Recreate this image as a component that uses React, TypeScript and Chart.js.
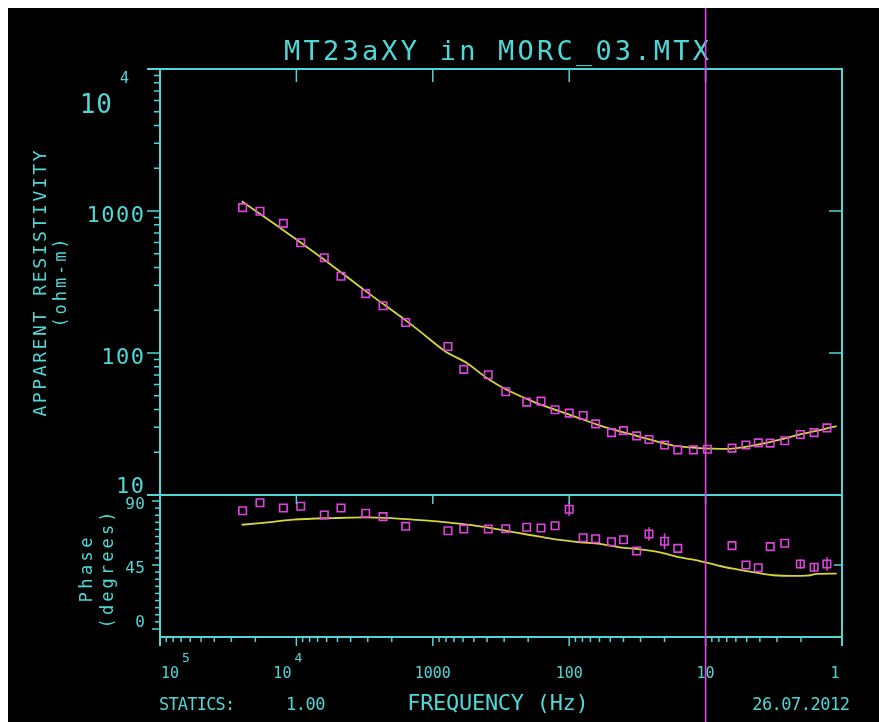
import React, { useEffect, useRef } from 'react';
import { Chart, registerables } from 'chart.js';

Chart.register(...registerables);

// ---------- texts ----------
const TITLE = 'MT23aXY in MORC_03.MTX';
const Y_TITLE = 'APPARENT RESISTIVITY';
const Y_UNIT = '(ohm-m)';
const PHASE_TITLE = 'Phase';
const PHASE_UNIT = '(degrees)';
const X_TITLE = 'FREQUENCY (Hz)';
const STATICS_LABEL = 'STATICS:';
const STATICS_VALUE = '1.00';
const DATE_LABEL = '26.07.2012';

// ---------- tick labels ----------
const RHO_TICKS = [10000, 1000, 100, 10];
const RHO_TICK_LABELS = ['10', '1000', '100', '10'];
const RHO_TICK_EXP = ['4', '', '', ''];
const PHASE_TICKS = [90, 45, 0];
const PHASE_TICK_LABELS = ['90', '45', '0'];
const FREQ_TICKS = [100000, 10000, 1000, 100, 10, 1];
const FREQ_TICK_LABELS = ['10', '10', '1000', '100', '10', '1'];
const FREQ_TICK_EXP = ['5', '4', '', '', '', ''];

// ---------- axis ranges ----------
const FREQ_MIN = 1;
const FREQ_MAX = 100000;
const RHO_MIN = 1;
const RHO_MAX = 10000;
const RHO_PANEL_MIN = 10;
const PHASE_MIN = -5.63;
const PHASE_MAX = 393.8;
const MARK_FREQ = 10;

// ---------- observed data ----------
const freqs = [24780, 18490, 12470, 9300, 6245, 4710, 3104, 2317, 1580, 774, 593, 392, 292, 205, 161, 127, 100, 79, 64, 49, 40, 32, 26, 20, 16, 12.3, 9.7, 6.4, 5.06, 4.11, 3.36, 2.63, 2.02, 1.6, 1.29];
const rhoObs = [1057, 995, 818, 598, 469, 347, 262, 215, 164, 111, 76.7, 70.3, 53.3, 45.1, 45.8, 39.8, 37.7, 36.3, 31.7, 27.5, 28.4, 26.1, 24.6, 22.5, 20.8, 20.8, 21.0, 21.4, 22.5, 23.3, 23.2, 24.1, 26.7, 27.5, 29.7];
const phaseObs = [83.2, 88.8, 85.1, 86.3, 80.2, 85.1, 81.4, 79.0, 72.2, 69.1, 70.3, 70.3, 70.5, 71.5, 71.0, 72.6, 84.2, 64.2, 63.5, 61.4, 62.8, 54.8, 66.8, 61.7, 56.7, null, null, 58.6, 45.0, 43.1, 57.9, 60.3, 45.7, 43.4, 45.7];
const phaseErr = [0, 0, 0, 0, 0, 0, 0, 0, 0, 0, 0, 0, 0, 0, 0, 0, 4.7, 0, 0, 0, 0, 0, 4.7, 5.6, 0, 0, 0, 0, 0, 0, 0, 0, 3.3, 3.0, 4.7];

// ---------- model curves ----------
const modelFreqs = [25180, 12540, 6280, 3140, 1572, 1241, 814, 564, 402, 287, 173, 98.6, 56.2, 32.0, 18.2, 13.8, 7.84, 5.92, 3.37, 1.92, 1.094];
const modelRho = [1170, 736, 456, 275, 169, 142, 103, 85.1, 66.7, 55.1, 44.4, 36.7, 30.3, 26.1, 22.5, 21.7, 21.1, 21.4, 23.6, 27.0, 30.5];
const phaseModelFreqs = [25180, 14770, 10530, 5364, 3234, 2002, 1390, 991, 707, 505, 340, 243, 164, 117, 83.3, 59.5, 42.4, 30.3, 21.6, 15.4, 11.0, 7.84, 6.26, 4.72, 3.19, 1.82, 1.53, 1.094];
const phaseModel = [73.3, 75.4, 76.9, 78.0, 78.5, 78.0, 76.9, 75.9, 74.5, 72.9, 70.3, 67.7, 64.9, 62.6, 61.0, 59.8, 57.4, 56.0, 53.9, 50.4, 47.8, 44.3, 42.4, 40.3, 37.8, 37.5, 38.7, 38.9];

// ---------- styles ----------
const CYAN = '#4fd6d6';
const MAGENTA = '#e044e0';
const YELLOW = '#d6d63a';
const FONT = '"DejaVu Sans Mono", monospace';
const W = 871;
const H = 714;

function drawText(ctx: CanvasRenderingContext2D, s: string, x: number, y: number, size: number, align: CanvasTextAlign, ls = 0, rot = 0) {
  ctx.save();
  ctx.translate(x, y);
  if (rot) ctx.rotate(rot);
  ctx.font = `${size}px ${FONT}`;
  (ctx as any).letterSpacing = `${ls}px`;
  ctx.textAlign = align;
  ctx.textBaseline = 'alphabetic';
  ctx.fillStyle = CYAN;
  let dx = 0;
  if (align === 'center') dx = ls / 2;
  if (align === 'right') dx = ls;
  ctx.fillText(s, dx, 0);
  ctx.restore();
}

function line(ctx: CanvasRenderingContext2D, x1: number, y1: number, x2: number, y2: number) {
  ctx.beginPath();
  ctx.moveTo(x1, y1);
  ctx.lineTo(x2, y2);
  ctx.stroke();
}

const framePlugin = {
  id: 'mtFrame',
  afterDatasetsDraw(chart: any) {
    const { ctx, chartArea: a, scales } = chart;
    const sx = scales.x, sy = scales.y, sp = scales.y2;
    // error bars
    ctx.save();
    ctx.strokeStyle = MAGENTA;
    ctx.lineWidth = 1.5;
    freqs.forEach((f, i) => {
      const v = phaseObs[i];
      const e = phaseErr[i];
      if (v == null || !e) return;
      const px = sx.getPixelForValue(f);
      line(ctx, px, sp.getPixelForValue(v + e), px, sp.getPixelForValue(v - e));
    });
    ctx.restore();
  },
  afterDraw(chart: any) {
    const { ctx, chartArea: a, scales } = chart;
    const sx = scales.x, sy = scales.y, sp = scales.y2;
    const L = a.left, R = a.right, T = a.top, B = a.bottom;
    const D = sy.getPixelForValue(RHO_PANEL_MIN);
    ctx.save();
    ctx.strokeStyle = CYAN;
    ctx.lineWidth = 2;
    line(ctx, L - 13, T, R + 1, T);
    line(ctx, L - 13, D, R + 1, D);
    line(ctx, L, B, R, B);
    line(ctx, L, T, L, B + 9);
    line(ctx, R, T, R, B + 9);
    ctx.lineWidth = 1.5;
    // resistivity axis ticks
    for (let k = 1; k <= 3; k++) {
      for (let m = 2; m <= 9; m++) {
        const py = sy.getPixelForValue(m * Math.pow(10, k));
        line(ctx, L - 6, py, L, py);
      }
    }
    [100, 1000].forEach((v) => {
      const py = sy.getPixelForValue(v);
      line(ctx, L - 13, py, L, py);
      line(ctx, R - 13, py, R, py);
    });
    // frequency ticks
    FREQ_TICKS.slice(1, 5).forEach((f) => {
      const px = sx.getPixelForValue(f);
      line(ctx, px, T, px, T + 13);
      line(ctx, px, D, px, D + 9);
      line(ctx, px, B, px, B + 9);
    });
    for (let k = 0; k <= 4; k++) {
      for (let m = 2; m <= 9; m++) {
        const px = sx.getPixelForValue(m * Math.pow(10, k));
        line(ctx, px, B, px, B + 5);
      }
    }
    // phase ticks
    for (let v = 0; v <= 90; v += 5) {
      const py = sp.getPixelForValue(v);
      const len = v % 45 === 0 ? 8 : 5;
      line(ctx, L - len, py, L, py);
    }
    const p45 = sp.getPixelForValue(45);
    line(ctx, R - 8, p45, R, p45);
    ctx.restore();

    // tick labels: resistivity
    RHO_TICKS.forEach((v, i) => {
      const py = sy.getPixelForValue(v);
      if (i === 0) {
        drawText(ctx, RHO_TICK_LABELS[i], L - 48, py + 44, 26, 'right', 1);
        drawText(ctx, RHO_TICK_EXP[i], L - 40, py + 14, 15, 'left');
      } else if (i === RHO_TICKS.length - 1) {
        drawText(ctx, RHO_TICK_LABELS[i], L - 16, py - 2, 22, 'right', 1.5);
      } else {
        drawText(ctx, RHO_TICK_LABELS[i], L - 16, py + 11, 22, 'right', 1.5);
      }
    });
    // tick labels: phase
    PHASE_TICKS.forEach((v, i) => {
      const py = sp.getPixelForValue(v);
      const dy = i === 0 ? 8 : i === 2 ? -2 : 8;
      drawText(ctx, PHASE_TICK_LABELS[i], L - 15, py + dy, 16, 'right', 0.5);
    });
    // tick labels: frequency
    FREQ_TICKS.forEach((f, i) => {
      const px = sx.getPixelForValue(f);
      if (FREQ_TICK_EXP[i]) {
        const off = i === 0 ? 10 : -14;
        drawText(ctx, FREQ_TICK_LABELS[i], px + off, B + 41, 15, 'center');
        drawText(ctx, FREQ_TICK_EXP[i], px + off + 16, B + 25, 13, 'center');
      } else {
        const off = i === FREQ_TICKS.length - 1 ? -7 : 0;
        drawText(ctx, FREQ_TICK_LABELS[i], px + off, B + 41, 15, 'center');
      }
    });

    // titles
    drawText(ctx, TITLE, (L + R) / 2 - 4.5, T - 9, 27, 'center', 3.2);
    drawText(ctx, Y_TITLE, 31 + 6.6, (T + D) / 2 + 1.5, 18, 'center', 2.6, -Math.PI / 2);
    drawText(ctx, Y_UNIT, 53 + 5.3, (T + D) / 2 + 1, 17, 'center', 2.9, -Math.PI / 2);
    drawText(ctx, PHASE_TITLE, 77 + 6.5, 562, 17, 'center', 3.5, -Math.PI / 2);
    drawText(ctx, PHASE_UNIT, 100 + 5.3, 562, 17, 'center', 3.1, -Math.PI / 2);
    drawText(ctx, X_TITLE, 490, 702, 22, 'center', -0.3);
    drawText(ctx, STATICS_LABEL, 151, 702, 17, 'left', -0.8);
    drawText(ctx, STATICS_VALUE, 278, 702, 17, 'left', -0.5);
    drawText(ctx, DATE_LABEL, 842, 702, 17, 'right', -0.5);

    // marker line at selected frequency
    const mx = sx.getPixelForValue(MARK_FREQ);
    ctx.save();
    ctx.strokeStyle = MAGENTA;
    ctx.lineWidth = 1.6;
    line(ctx, mx, 0, mx, H);
    ctx.restore();
  },
};

export default function App() {
  const ref = useRef<HTMLCanvasElement | null>(null);
  useEffect(() => {
    if (!ref.current) return;
    const rhoPts = freqs.map((f, i) => ({ x: f, y: rhoObs[i] }));
    const phasePts = freqs
      .map((f, i) => ({ x: f, y: phaseObs[i] }))
      .filter((p) => p.y != null);
    const rhoModelPts = modelFreqs.map((f, i) => ({ x: f, y: modelRho[i] }));
    const phaseModelPts = phaseModelFreqs.map((f, i) => ({ x: f, y: phaseModel[i] }));
    const chart = new Chart(ref.current, {
      type: 'line',
      data: {
        datasets: [
          {
            label: 'Apparent resistivity',
            data: rhoPts,
            yAxisID: 'y',
            showLine: false,
            pointStyle: 'rect',
            pointRadius: 5.3,
            pointBorderWidth: 1.6,
            borderColor: MAGENTA,
            backgroundColor: 'rgba(0,0,0,0)',
          },
          {
            label: 'Phase',
            data: phasePts as any,
            yAxisID: 'y2',
            showLine: false,
            pointStyle: 'rect',
            pointRadius: 5.3,
            pointBorderWidth: 1.6,
            borderColor: MAGENTA,
            backgroundColor: 'rgba(0,0,0,0)',
          },
          {
            label: 'Resistivity model',
            data: rhoModelPts,
            yAxisID: 'y',
            borderColor: YELLOW,
            borderWidth: 1.8,
            pointRadius: 0,
            tension: 0.3,
            fill: false,
          },
          {
            label: 'Phase model',
            data: phaseModelPts,
            yAxisID: 'y2',
            borderColor: YELLOW,
            borderWidth: 1.8,
            pointRadius: 0,
            tension: 0.3,
            fill: false,
          },
        ],
      },
      options: {
        responsive: false,
        animation: false,
        layout: { padding: { left: 152, right: 37, top: 61, bottom: 85 } },
        plugins: { legend: { display: false }, tooltip: { enabled: false }, title: { display: false } },
        scales: {
          x: { type: 'logarithmic', min: FREQ_MIN, max: FREQ_MAX, reverse: true, display: false, bounds: 'data' },
          y: { type: 'logarithmic', min: RHO_MIN, max: RHO_MAX, display: false, bounds: 'data' },
          y2: { type: 'linear', min: PHASE_MIN, max: PHASE_MAX, display: false, bounds: 'data' },
        },
      },
      plugins: [framePlugin],
    });
    return () => chart.destroy();
  }, []);
  return (
    <div style={{ position: 'fixed', left: 8, top: 8, width: W, height: H, background: '#000' }}>
      <canvas ref={ref} width={W} height={H} style={{ display: 'block' }} />
    </div>
  );
}
